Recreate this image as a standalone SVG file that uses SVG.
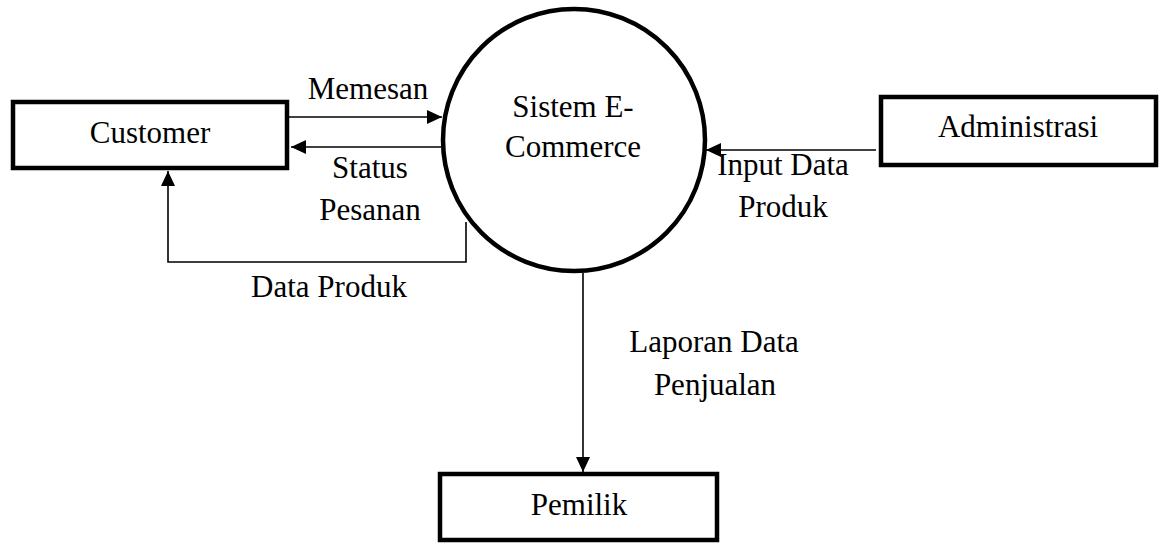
<svg xmlns="http://www.w3.org/2000/svg" width="1160" height="543" viewBox="0 0 1160 543">
<style>
.box{fill:#fff;stroke:#000;stroke-width:4.5}
.t{font-family:"Liberation Serif","Times New Roman",serif;font-size:31px;fill:#000;text-anchor:middle}
.c{fill:none;stroke:#000;stroke-width:1.6}
</style>
<defs>
<marker id="ah" markerUnits="userSpaceOnUse" markerWidth="16" markerHeight="14" refX="15" refY="7" orient="auto">
<path d="M0,0 L15,7 L0,14 Z" fill="#000"/>
</marker>
</defs>
<rect width="1160" height="543" fill="#fff"/>
<g id="connectors">
<line class="c" x1="289" y1="117" x2="442" y2="117" marker-end="url(#ah)"/>
<line class="c" x1="441" y1="147" x2="291" y2="147" marker-end="url(#ah)"/>
<polyline class="c" points="466,222 466,262 168,262 168,171" marker-end="url(#ah)"/>
<line class="c" x1="876" y1="150" x2="706" y2="150" marker-end="url(#ah)"/>
<line class="c" x1="583" y1="273" x2="583" y2="472" marker-end="url(#ah)"/>
<text class="t" x="368" y="99">Memesan</text>
<text class="t" x="370" y="178">Status</text>
<text class="t" x="370" y="220">Pesanan</text>
<text class="t" x="329" y="297">Data Produk</text>
<text class="t" x="783" y="175">Input Data</text>
<text class="t" x="783" y="217">Produk</text>
<text class="t" x="714" y="352">Laporan Data</text>
<text class="t" x="715" y="395">Penjualan</text>
</g>
<g id="customer">
<rect class="box" x="13" y="102" width="274" height="66"/>
<text class="t" x="150" y="143">Customer</text>
</g>
<g id="sistem">
<circle class="box" cx="574" cy="140" r="131"/>
<text class="t" x="573" y="117">Sistem E-</text>
<text class="t" x="573" y="157">Commerce</text>
</g>
<g id="administrasi">
<rect class="box" x="881" y="97" width="275" height="68"/>
<text class="t" x="1018" y="137">Administrasi</text>
</g>
<g id="pemilik">
<rect class="box" x="440" y="474" width="277" height="66"/>
<text class="t" x="579" y="515">Pemilik</text>
</g>
</svg>
